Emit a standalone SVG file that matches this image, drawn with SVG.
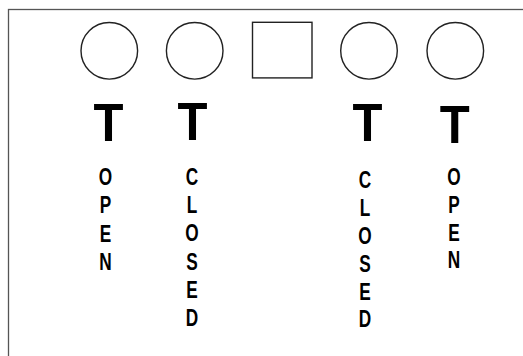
<svg xmlns="http://www.w3.org/2000/svg" width="523" height="356" viewBox="0 0 523 356">
<style>
.shape{fill:none;stroke:#222;stroke-width:1.4}
.t{font-family:"Liberation Sans",Arial,sans-serif;font-weight:bold;font-size:54.5px;fill:#000;text-anchor:middle}
.l{font-family:"Liberation Sans",Arial,sans-serif;font-weight:bold;font-size:23px;fill:#000;text-anchor:middle}
</style>
<rect width="523" height="356" fill="#fff"/>
<rect x="8.5" y="9.5" width="530" height="360" fill="none" stroke="#555" stroke-width="1.3"/>
<g id="node-c1"><circle class="shape" cx="109.3" cy="50.8" r="28.3"/></g>
<g id="node-c2"><circle class="shape" cx="194.7" cy="50.8" r="28.3"/></g>
<g id="node-sq"><rect class="shape" x="252.5" y="22.3" width="59.5" height="55.6"/></g>
<g id="node-c3"><circle class="shape" cx="369" cy="50.8" r="28.3"/></g>
<g id="node-c4"><circle class="shape" cx="455.3" cy="50.8" r="28.3"/></g>
<g id="connectors"></g>
<g id="label-1">
<g transform="translate(108.5,0) scale(0.9,1)"><text class="t" x="0" y="140.7">T</text></g>
<g transform="translate(105.5,0) scale(0.75,1)">
<text class="l" x="0" y="185">O</text><text class="l" x="0" y="213.3">P</text><text class="l" x="0" y="241.6">E</text><text class="l" x="0" y="270">N</text>
</g>
</g>
<g id="label-2">
<g transform="translate(192.5,0) scale(0.9,1)"><text class="t" x="0" y="140">T</text></g>
<g transform="translate(192,0) scale(0.75,1)">
<text class="l" x="0" y="185">C</text><text class="l" x="0" y="213.2">L</text><text class="l" x="0" y="241.4">O</text><text class="l" x="0" y="269.6">S</text><text class="l" x="0" y="297.8">E</text><text class="l" x="0" y="326">D</text>
</g>
</g>
<g id="label-3">
<g transform="translate(367.5,0) scale(0.9,1)"><text class="t" x="0" y="140.7">T</text></g>
<g transform="translate(365,0) scale(0.75,1)">
<text class="l" x="0" y="188.4">C</text><text class="l" x="0" y="216.2">L</text><text class="l" x="0" y="244">O</text><text class="l" x="0" y="271.8">S</text><text class="l" x="0" y="299.6">E</text><text class="l" x="0" y="327.3">D</text>
</g>
</g>
<g id="label-4">
<g transform="translate(454.7,0) scale(0.9,1)"><text class="t" x="0" y="142.7">T</text></g>
<g transform="translate(454,0) scale(0.75,1)">
<text class="l" x="0" y="185">O</text><text class="l" x="0" y="212.8">P</text><text class="l" x="0" y="240.6">E</text><text class="l" x="0" y="268.3">N</text>
</g>
</g>
</svg>
